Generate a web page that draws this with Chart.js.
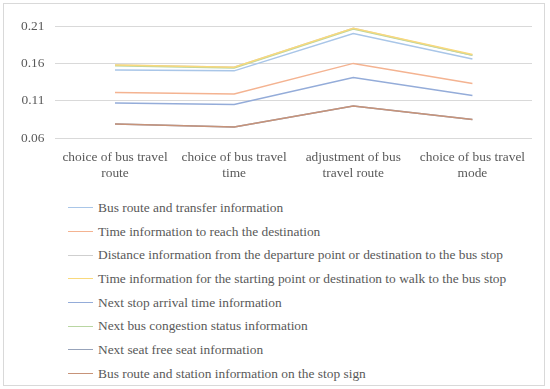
<!DOCTYPE html>
<html>
<head>
<meta charset="utf-8">
<script src="https://cdn.jsdelivr.net/npm/chart.js@4"></script>
<style>
  body { margin: 0; background: #fff; }
  #frame {
    position: absolute; left: 3px; top: 3px;
    width: 540px; height: 381px;
    border: 1px solid #d9d9d9;
  }
  #wrap { position: absolute; left: 0; top: 0; width: 540px; height: 181px; }
  #legend {
    position: absolute; left: 64px; top: 192px;
    font: 13.4px "Liberation Serif", serif; color: #595959;
  }
  .item { height: 23.7px; display: flex; align-items: center; }
  .swatch { width: 25px; height: 0; border-top: 1.5px solid; margin-right: 5px; }
</style>
</head>
<body>
<div id="frame">
  <div id="wrap"><canvas id="c"></canvas></div>
  <div id="legend"></div>
</div>
<script>
// categories (x axis)
const categories = [
  ['choice of bus travel', 'route'],
  ['choice of bus travel', 'time'],
  ['adjustment of bus', 'travel route'],
  ['choice of bus travel', 'mode'],
];

// series names
const seriesNames = [
  'Bus route and transfer information',
  'Time information to reach the destination',
  'Distance information from the departure point or destination to the bus stop',
  'Time information for the starting point or destination to walk to the bus stop',
  'Next stop arrival time information',
  'Next bus congestion status information',
  'Next seat free seat information',
  'Bus route and station information on the stop sign',
];

// series values
const busRouteTransfer   = [0.151, 0.150, 0.200, 0.166];
const timeToDestination  = [0.121, 0.119, 0.160, 0.133];
const distanceToStop     = [0.158, 0.155, 0.207, 0.171];
const walkTimeToStop     = [0.158, 0.155, 0.207, 0.172];
const nextStopArrival    = [0.107, 0.105, 0.141, 0.117];
const congestionStatus   = [0.157, 0.154, 0.206, 0.171];
const freeSeat           = [0.079, 0.075, 0.103, 0.085];
const stopSignInfo       = [0.079, 0.075, 0.103, 0.085];

const seriesValues = [busRouteTransfer, timeToDestination, distanceToStop, walkTimeToStop,
                      nextStopArrival, congestionStatus, freeSeat, stopSignInfo];

// y axis ticks
const yTicks = [0.06, 0.11, 0.16, 0.21];

const colors = ['#a9c6e8', '#f4b391', '#cfcfcf', '#f9d97c', '#94acd9', '#b9d6a2', '#97a3ba', '#c79379'];
// drawing order: lower = on top (yellow kept above the green one, as in the source)
const drawOrder = [3, 6, 8, 0, 5, 7, 4, 1];

const FONT = '"Liberation Serif", serif';
const TEXT = '#595959';

const datasets = seriesNames.map((name, i) => ({
  label: name,
  data: seriesValues[i],
  borderColor: colors[i],
  backgroundColor: colors[i],
  borderWidth: 1.5,
  pointRadius: 0,
  tension: 0,
  order: drawOrder[i],
}));

new Chart(document.getElementById('c'), {
  type: 'line',
  data: { labels: categories, datasets },
  options: {
    responsive: true,
    maintainAspectRatio: false,
    animation: false,
    layout: { padding: { left: 6, right: 12, top: 22, bottom: 0 } },
    plugins: { legend: { display: false }, tooltip: { enabled: false } },
    scales: {
      x: {
        offset: true,
        grid: { display: false },
        border: { display: false },
        ticks: { color: TEXT, font: { family: FONT, size: 13.4, lineHeight: 1.15 }, padding: 4, maxRotation: 0 },
      },
      y: {
        min: yTicks[0], max: yTicks[yTicks.length - 1],
        afterBuildTicks: axis => { axis.ticks = yTicks.map(v => ({ value: v })); },
        grid: { color: '#d9d9d9', lineWidth: 1, drawTicks: false },
        border: { display: false },
        ticks: { color: TEXT, font: { family: FONT, size: 13.4 }, padding: 11,
                 callback: v => v.toFixed(2) },
      },
    },
  },
});

/* ── legend, one item per row ───────────────────────── */
const legend = document.getElementById('legend');
seriesNames.forEach((name, i) => {
  const row = document.createElement('div');
  row.className = 'item';
  const sw = document.createElement('span');
  sw.className = 'swatch';
  sw.style.borderColor = colors[i];
  row.appendChild(sw);
  row.appendChild(document.createTextNode(name));
  legend.appendChild(row);
});
</script>
</body>
</html>
